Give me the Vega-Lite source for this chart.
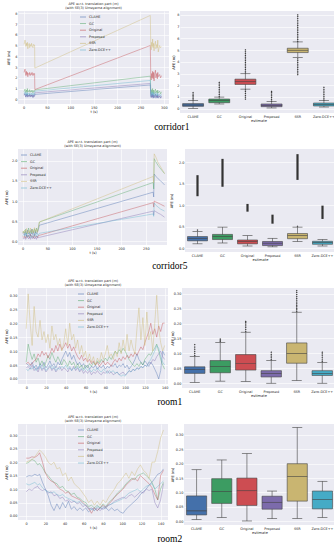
{
"$schema": "https://vega.github.io/schema/vega-lite/v6.json",
"background": "white",
"padding": {"left": 4, "top": 1, "right": 0, "bottom": 0},
"spacing": 7,
"resolve": {"scale": {"color": "independent"}, "legend": {"color": "independent"}},
"config": {
  "font": "DejaVu Sans",
  "view": {"fill": "#EAEAF2", "stroke": null},
  "axis": {"domain": false, "ticks": false, "gridColor": "white", "gridWidth": 0.6, "labelFontSize": 3.4, "titleFontSize": 3.6, "titleFontWeight": "normal", "labelColor": "#262626", "titleColor": "#262626", "labelPadding": 1.2, "titlePadding": 1, "labelOverlap": false, "labelBound": false, "labelFlush": false},
  "legend": {"symbolType": "stroke", "symbolSize": 36, "symbolStrokeWidth": 0.8, "labelFontSize": 3.4, "labelColor": "#262626", "rowPadding": 0.6, "labelOffset": 2.5, "padding": 1.5, "labelLimit": 0},
  "title": {"font": "DejaVu Sans", "fontWeight": "normal", "color": "#262626"}
},
"datasets": {
 "c1": [
  {"t":1,"CLAHE":0.4,"GC":0.7,"Original":2.5,"Proposed":0.35,"SSR":5.1,"ZeroDCE":0.5},
  {"t":3,"CLAHE":0.55,"GC":0.95,"Original":2.8,"Proposed":0.5,"SSR":5.5,"ZeroDCE":0.7},
  {"t":4,"CLAHE":0.3,"GC":0.75,"Original":2.4,"Proposed":0.3,"SSR":5.3,"ZeroDCE":0.5},
  {"t":5,"CLAHE":0.2,"GC":0.6,"Original":2.2,"Proposed":0.2,"SSR":4.9,"ZeroDCE":0.35},
  {"t":6,"CLAHE":0.45,"GC":0.85,"Original":2.6,"Proposed":0.45,"SSR":5.2,"ZeroDCE":0.6},
  {"t":7,"CLAHE":0.3,"GC":0.7,"Original":2.3,"Proposed":0.3,"SSR":5.0,"ZeroDCE":0.45},
  {"t":8,"CLAHE":0.5,"GC":1.0,"Original":2.5,"Proposed":0.5,"SSR":5.3,"ZeroDCE":0.65},
  {"t":9,"CLAHE":0.2,"GC":0.65,"Original":2.1,"Proposed":0.2,"SSR":4.7,"ZeroDCE":0.35},
  {"t":10,"CLAHE":0.35,"GC":0.8,"Original":2.4,"Proposed":0.4,"SSR":5.0,"ZeroDCE":0.55},
  {"t":12,"CLAHE":0.3,"GC":0.7,"Original":2.3,"Proposed":0.3,"SSR":5.2,"ZeroDCE":0.45},
  {"t":13,"CLAHE":0.45,"GC":0.9,"Original":2.5,"Proposed":0.45,"SSR":4.8,"ZeroDCE":0.6},
  {"t":14,"CLAHE":0.2,"GC":0.65,"Original":2.2,"Proposed":0.25,"SSR":5.1,"ZeroDCE":0.4},
  {"t":16,"CLAHE":0.4,"GC":0.8,"Original":2.4,"Proposed":0.4,"SSR":4.9,"ZeroDCE":0.55},
  {"t":17,"CLAHE":0.25,"GC":0.7,"Original":2.3,"Proposed":0.3,"SSR":5.2,"ZeroDCE":0.45},
  {"t":18,"CLAHE":0.4,"GC":0.85,"Original":2.5,"Proposed":0.45,"SSR":5.0,"ZeroDCE":0.6},
  {"t":20,"CLAHE":0.15,"GC":0.6,"Original":2.2,"Proposed":0.2,"SSR":4.8,"ZeroDCE":0.35},
  {"t":21,"CLAHE":0.35,"GC":0.8,"Original":2.4,"Proposed":0.4,"SSR":5.1,"ZeroDCE":0.55},
  {"t":22,"CLAHE":0.25,"GC":0.7,"Original":2.3,"Proposed":0.25,"SSR":5.0,"ZeroDCE":0.4},
  {"t":23.5,"CLAHE":0.3,"GC":0.75,"Original":2.4,"Proposed":0.35,"SSR":5.05,"ZeroDCE":0.5},
  {"t":24,"CLAHE":0.45,"GC":0.87,"Original":0.9,"Proposed":0.6,"SSR":2.9,"ZeroDCE":0.75},
  {"t":271,"CLAHE":1.33,"GC":2.15,"Original":5.0,"Proposed":1.47,"SSR":7.8,"ZeroDCE":1.75},
  {"t":272,"CLAHE":0.3,"GC":0.7,"Original":2.1,"Proposed":0.35,"SSR":5.0,"ZeroDCE":0.5},
  {"t":273,"CLAHE":0.15,"GC":0.5,"Original":1.8,"Proposed":0.2,"SSR":4.6,"ZeroDCE":0.3},
  {"t":274,"CLAHE":0.5,"GC":0.9,"Original":2.4,"Proposed":0.5,"SSR":5.3,"ZeroDCE":0.65},
  {"t":275,"CLAHE":0.2,"GC":0.6,"Original":2.0,"Proposed":0.25,"SSR":4.9,"ZeroDCE":0.4},
  {"t":276,"CLAHE":0.45,"GC":1.0,"Original":2.6,"Proposed":0.55,"SSR":5.6,"ZeroDCE":0.7},
  {"t":277,"CLAHE":0.1,"GC":0.55,"Original":1.9,"Proposed":0.2,"SSR":4.8,"ZeroDCE":0.35},
  {"t":278,"CLAHE":0.4,"GC":0.85,"Original":2.5,"Proposed":0.45,"SSR":5.2,"ZeroDCE":0.6},
  {"t":279,"CLAHE":0.15,"GC":0.5,"Original":1.7,"Proposed":0.15,"SSR":4.5,"ZeroDCE":0.25},
  {"t":280,"CLAHE":0.3,"GC":0.75,"Original":2.3,"Proposed":0.35,"SSR":5.0,"ZeroDCE":0.5},
  {"t":282,"CLAHE":0.45,"GC":0.95,"Original":2.7,"Proposed":0.5,"SSR":5.4,"ZeroDCE":0.65},
  {"t":283,"CLAHE":0.1,"GC":0.6,"Original":2.0,"Proposed":0.2,"SSR":4.7,"ZeroDCE":0.35},
  {"t":285,"CLAHE":0.35,"GC":0.8,"Original":2.4,"Proposed":0.4,"SSR":5.1,"ZeroDCE":0.55},
  {"t":286,"CLAHE":0.15,"GC":0.55,"Original":1.9,"Proposed":0.15,"SSR":4.8,"ZeroDCE":0.3},
  {"t":287,"CLAHE":0.4,"GC":0.85,"Original":2.5,"Proposed":0.45,"SSR":5.5,"ZeroDCE":0.6},
  {"t":288,"CLAHE":0.1,"GC":0.6,"Original":2.1,"Proposed":0.2,"SSR":4.4,"ZeroDCE":0.35},
  {"t":291,"CLAHE":0.3,"GC":0.75,"Original":2.3,"Proposed":0.35,"SSR":5.0,"ZeroDCE":0.5},
  {"t":293,"CLAHE":0.1,"GC":0.5,"Original":2.0,"Proposed":0.15,"SSR":4.8,"ZeroDCE":0.3},
  {"t":295,"CLAHE":0.25,"GC":0.7,"Original":2.2,"Proposed":0.3,"SSR":4.9,"ZeroDCE":0.45}
 ],
 "c5": [
  {"t":0,"CLAHE":0.2,"GC":0.22,"Original":0.12,"Proposed":0.08,"SSR":0.25,"ZeroDCE":0.15},
  {"t":2,"CLAHE":0.22,"GC":0.25,"Original":0.1,"Proposed":0.06,"SSR":0.2,"ZeroDCE":0.17},
  {"t":4,"CLAHE":0.15,"GC":0.2,"Original":0.14,"Proposed":0.1,"SSR":0.28,"ZeroDCE":0.12},
  {"t":6,"CLAHE":0.25,"GC":0.3,"Original":0.08,"Proposed":0.05,"SSR":0.22,"ZeroDCE":0.2},
  {"t":8,"CLAHE":0.12,"GC":0.18,"Original":0.15,"Proposed":0.09,"SSR":0.32,"ZeroDCE":0.1},
  {"t":10,"CLAHE":0.28,"GC":0.22,"Original":0.1,"Proposed":0.12,"SSR":0.2,"ZeroDCE":0.16},
  {"t":12,"CLAHE":0.18,"GC":0.33,"Original":0.16,"Proposed":0.06,"SSR":0.27,"ZeroDCE":0.11},
  {"t":14,"CLAHE":0.22,"GC":0.2,"Original":0.09,"Proposed":0.1,"SSR":0.21,"ZeroDCE":0.18},
  {"t":16,"CLAHE":0.14,"GC":0.27,"Original":0.17,"Proposed":0.05,"SSR":0.33,"ZeroDCE":0.09},
  {"t":18,"CLAHE":0.3,"GC":0.19,"Original":0.11,"Proposed":0.11,"SSR":0.22,"ZeroDCE":0.15},
  {"t":20,"CLAHE":0.17,"GC":0.3,"Original":0.14,"Proposed":0.07,"SSR":0.29,"ZeroDCE":0.1},
  {"t":22,"CLAHE":0.24,"GC":0.22,"Original":0.08,"Proposed":0.12,"SSR":0.2,"ZeroDCE":0.17},
  {"t":24,"CLAHE":0.15,"GC":0.31,"Original":0.16,"Proposed":0.06,"SSR":0.34,"ZeroDCE":0.12},
  {"t":26,"CLAHE":0.27,"GC":0.2,"Original":0.1,"Proposed":0.1,"SSR":0.24,"ZeroDCE":0.19},
  {"t":28,"CLAHE":0.19,"GC":0.33,"Original":0.13,"Proposed":0.05,"SSR":0.3,"ZeroDCE":0.11},
  {"t":30,"CLAHE":0.23,"GC":0.24,"Original":0.09,"Proposed":0.13,"SSR":0.22,"ZeroDCE":0.2},
  {"t":32,"CLAHE":0.3,"GC":0.35,"Original":0.15,"Proposed":0.09,"SSR":0.36,"ZeroDCE":0.15},
  {"t":34,"CLAHE":0.4,"GC":0.48,"Original":0.15,"Proposed":0.1,"SSR":0.48,"ZeroDCE":0.2},
  {"t":265,"CLAHE":1.22,"GC":1.46,"Original":0.96,"Proposed":0.75,"SSR":1.61,"ZeroDCE":0.68},
  {"t":266,"CLAHE":1.1,"GC":1.3,"Original":0.85,"Proposed":0.65,"SSR":1.45,"ZeroDCE":0.62},
  {"t":267,"CLAHE":1.67,"GC":2.05,"Original":1.0,"Proposed":0.76,"SSR":2.17,"ZeroDCE":0.95},
  {"t":270,"CLAHE":1.62,"GC":1.98,"Original":0.98,"Proposed":0.74,"SSR":2.1,"ZeroDCE":0.9},
  {"t":275,"CLAHE":1.55,"GC":1.88,"Original":0.95,"Proposed":0.7,"SSR":1.95,"ZeroDCE":0.85},
  {"t":280,"CLAHE":1.5,"GC":1.8,"Original":0.92,"Proposed":0.67,"SSR":1.85,"ZeroDCE":0.8},
  {"t":288,"CLAHE":1.4,"GC":1.68,"Original":0.87,"Proposed":0.6,"SSR":1.68,"ZeroDCE":0.75}
 ],
 "r1": [
  {"t":0,"CLAHE":0.055,"GC":0.06,"Original":0.055,"Proposed":0.04,"SSR":0.18,"ZeroDCE":0.035},
  {"t":2,"CLAHE":0.05,"GC":0.125,"Original":0.06,"Proposed":0.045,"SSR":0.305,"ZeroDCE":0.03},
  {"t":4,"CLAHE":0.045,"GC":0.095,"Original":0.05,"Proposed":0.035,"SSR":0.2,"ZeroDCE":0.04},
  {"t":6,"CLAHE":0.06,"GC":0.07,"Original":0.055,"Proposed":0.05,"SSR":0.12,"ZeroDCE":0.035},
  {"t":8,"CLAHE":0.04,"GC":0.09,"Original":0.065,"Proposed":0.03,"SSR":0.26,"ZeroDCE":0.045},
  {"t":10,"CLAHE":0.05,"GC":0.06,"Original":0.07,"Proposed":0.04,"SSR":0.17,"ZeroDCE":0.03},
  {"t":12,"CLAHE":0.035,"GC":0.075,"Original":0.09,"Proposed":0.025,"SSR":0.15,"ZeroDCE":0.04},
  {"t":14,"CLAHE":0.055,"GC":0.05,"Original":0.08,"Proposed":0.045,"SSR":0.21,"ZeroDCE":0.05},
  {"t":16,"CLAHE":0.045,"GC":0.065,"Original":0.1,"Proposed":0.03,"SSR":0.14,"ZeroDCE":0.035},
  {"t":18,"CLAHE":0.06,"GC":0.045,"Original":0.085,"Proposed":0.04,"SSR":0.17,"ZeroDCE":0.045},
  {"t":20,"CLAHE":0.04,"GC":0.06,"Original":0.095,"Proposed":0.025,"SSR":0.13,"ZeroDCE":0.03},
  {"t":22,"CLAHE":0.05,"GC":0.085,"Original":0.075,"Proposed":0.035,"SSR":0.16,"ZeroDCE":0.04},
  {"t":24,"CLAHE":0.065,"GC":0.07,"Original":0.09,"Proposed":0.045,"SSR":0.11,"ZeroDCE":0.05},
  {"t":26,"CLAHE":0.045,"GC":0.095,"Original":0.11,"Proposed":0.03,"SSR":0.19,"ZeroDCE":0.035},
  {"t":28,"CLAHE":0.055,"GC":0.075,"Original":0.095,"Proposed":0.04,"SSR":0.14,"ZeroDCE":0.045},
  {"t":30,"CLAHE":0.04,"GC":0.06,"Original":0.12,"Proposed":0.025,"SSR":0.16,"ZeroDCE":0.03},
  {"t":32,"CLAHE":0.06,"GC":0.08,"Original":0.1,"Proposed":0.035,"SSR":0.12,"ZeroDCE":0.04},
  {"t":34,"CLAHE":0.05,"GC":0.065,"Original":0.125,"Proposed":0.045,"SSR":0.145,"ZeroDCE":0.035},
  {"t":36,"CLAHE":0.07,"GC":0.05,"Original":0.105,"Proposed":0.03,"SSR":0.1,"ZeroDCE":0.045},
  {"t":38,"CLAHE":0.085,"GC":0.07,"Original":0.115,"Proposed":0.04,"SSR":0.13,"ZeroDCE":0.04},
  {"t":40,"CLAHE":0.1,"GC":0.06,"Original":0.13,"Proposed":0.035,"SSR":0.18,"ZeroDCE":0.05},
  {"t":42,"CLAHE":0.08,"GC":0.045,"Original":0.11,"Proposed":0.025,"SSR":0.12,"ZeroDCE":0.035},
  {"t":44,"CLAHE":0.095,"GC":0.065,"Original":0.125,"Proposed":0.04,"SSR":0.2,"ZeroDCE":0.045},
  {"t":46,"CLAHE":0.07,"GC":0.05,"Original":0.1,"Proposed":0.03,"SSR":0.14,"ZeroDCE":0.03},
  {"t":48,"CLAHE":0.085,"GC":0.06,"Original":0.115,"Proposed":0.045,"SSR":0.16,"ZeroDCE":0.04},
  {"t":50,"CLAHE":0.065,"GC":0.04,"Original":0.095,"Proposed":0.03,"SSR":0.11,"ZeroDCE":0.035},
  {"t":52,"CLAHE":0.05,"GC":0.055,"Original":0.08,"Proposed":0.04,"SSR":0.14,"ZeroDCE":0.045},
  {"t":54,"CLAHE":0.06,"GC":0.04,"Original":0.07,"Proposed":0.025,"SSR":0.09,"ZeroDCE":0.03},
  {"t":56,"CLAHE":0.045,"GC":0.05,"Original":0.085,"Proposed":0.035,"SSR":0.12,"ZeroDCE":0.04},
  {"t":58,"CLAHE":0.055,"GC":0.035,"Original":0.065,"Proposed":0.02,"SSR":0.08,"ZeroDCE":0.03},
  {"t":60,"CLAHE":0.04,"GC":0.05,"Original":0.075,"Proposed":0.03,"SSR":0.1,"ZeroDCE":0.04},
  {"t":62,"CLAHE":0.05,"GC":0.04,"Original":0.06,"Proposed":0.02,"SSR":0.065,"ZeroDCE":0.03},
  {"t":64,"CLAHE":0.035,"GC":0.055,"Original":0.07,"Proposed":0.03,"SSR":0.09,"ZeroDCE":0.035},
  {"t":66,"CLAHE":0.045,"GC":0.045,"Original":0.055,"Proposed":0.015,"SSR":0.06,"ZeroDCE":0.025},
  {"t":68,"CLAHE":0.04,"GC":0.06,"Original":0.065,"Proposed":0.025,"SSR":0.08,"ZeroDCE":0.035},
  {"t":70,"CLAHE":0.05,"GC":0.05,"Original":0.05,"Proposed":0.02,"SSR":0.05,"ZeroDCE":0.03},
  {"t":72,"CLAHE":0.035,"GC":0.065,"Original":0.06,"Proposed":0.03,"SSR":0.075,"ZeroDCE":0.04},
  {"t":74,"CLAHE":0.045,"GC":0.055,"Original":0.045,"Proposed":0.02,"SSR":0.06,"ZeroDCE":0.03},
  {"t":76,"CLAHE":0.04,"GC":0.07,"Original":0.055,"Proposed":0.015,"SSR":0.095,"ZeroDCE":0.025},
  {"t":78,"CLAHE":0.05,"GC":0.06,"Original":0.065,"Proposed":0.025,"SSR":0.07,"ZeroDCE":0.035},
  {"t":80,"CLAHE":0.035,"GC":0.075,"Original":0.05,"Proposed":0.02,"SSR":0.09,"ZeroDCE":0.03},
  {"t":82,"CLAHE":0.045,"GC":0.065,"Original":0.06,"Proposed":0.03,"SSR":0.12,"ZeroDCE":0.02},
  {"t":84,"CLAHE":0.04,"GC":0.08,"Original":0.055,"Proposed":0.02,"SSR":0.08,"ZeroDCE":0.03},
  {"t":86,"CLAHE":0.05,"GC":0.07,"Original":0.045,"Proposed":0.025,"SSR":0.09,"ZeroDCE":0.025},
  {"t":88,"CLAHE":0.045,"GC":0.085,"Original":0.06,"Proposed":0.015,"SSR":0.07,"ZeroDCE":0.03},
  {"t":90,"CLAHE":0.055,"GC":0.1,"Original":0.07,"Proposed":0.02,"SSR":0.1,"ZeroDCE":0.02},
  {"t":92,"CLAHE":0.04,"GC":0.09,"Original":0.06,"Proposed":0.025,"SSR":0.08,"ZeroDCE":0.025},
  {"t":94,"CLAHE":0.05,"GC":0.105,"Original":0.075,"Proposed":0.015,"SSR":0.13,"ZeroDCE":0.015},
  {"t":96,"CLAHE":0.045,"GC":0.095,"Original":0.065,"Proposed":0.02,"SSR":0.09,"ZeroDCE":0.01},
  {"t":98,"CLAHE":0.055,"GC":0.11,"Original":0.08,"Proposed":0.025,"SSR":0.14,"ZeroDCE":0.015},
  {"t":100,"CLAHE":0.04,"GC":0.1,"Original":0.07,"Proposed":0.015,"SSR":0.1,"ZeroDCE":0.01},
  {"t":102,"CLAHE":0.05,"GC":0.085,"Original":0.085,"Proposed":0.02,"SSR":0.16,"ZeroDCE":0.02},
  {"t":104,"CLAHE":0.035,"GC":0.07,"Original":0.075,"Proposed":0.03,"SSR":0.1,"ZeroDCE":0.03},
  {"t":106,"CLAHE":0.045,"GC":0.06,"Original":0.09,"Proposed":0.025,"SSR":0.14,"ZeroDCE":0.025},
  {"t":108,"CLAHE":0.055,"GC":0.05,"Original":0.08,"Proposed":0.035,"SSR":0.11,"ZeroDCE":0.035},
  {"t":110,"CLAHE":0.07,"GC":0.045,"Original":0.095,"Proposed":0.03,"SSR":0.09,"ZeroDCE":0.03},
  {"t":112,"CLAHE":0.09,"GC":0.055,"Original":0.085,"Proposed":0.04,"SSR":0.18,"ZeroDCE":0.04},
  {"t":114,"CLAHE":0.07,"GC":0.045,"Original":0.1,"Proposed":0.035,"SSR":0.255,"ZeroDCE":0.035},
  {"t":116,"CLAHE":0.06,"GC":0.06,"Original":0.115,"Proposed":0.045,"SSR":0.14,"ZeroDCE":0.045},
  {"t":118,"CLAHE":0.05,"GC":0.05,"Original":0.105,"Proposed":0.04,"SSR":0.22,"ZeroDCE":0.04},
  {"t":120,"CLAHE":0.065,"GC":0.07,"Original":0.13,"Proposed":0.05,"SSR":0.12,"ZeroDCE":0.05},
  {"t":122,"CLAHE":0.055,"GC":0.08,"Original":0.15,"Proposed":0.045,"SSR":0.24,"ZeroDCE":0.045},
  {"t":124,"CLAHE":0.045,"GC":0.09,"Original":0.17,"Proposed":0.06,"SSR":0.14,"ZeroDCE":0.06},
  {"t":126,"CLAHE":0.06,"GC":0.085,"Original":0.2,"Proposed":0.055,"SSR":0.17,"ZeroDCE":0.07},
  {"t":128,"CLAHE":0.05,"GC":0.1,"Original":0.16,"Proposed":0.07,"SSR":0.1,"ZeroDCE":0.085},
  {"t":130,"CLAHE":0.035,"GC":0.11,"Original":0.18,"Proposed":0.065,"SSR":0.2,"ZeroDCE":0.1},
  {"t":132,"CLAHE":0.02,"GC":0.125,"Original":0.15,"Proposed":0.08,"SSR":0.3,"ZeroDCE":0.12},
  {"t":134,"CLAHE":0.0,"GC":0.1,"Original":0.19,"Proposed":0.09,"SSR":0.18,"ZeroDCE":0.11},
  {"t":136,"CLAHE":0.03,"GC":0.07,"Original":0.17,"Proposed":0.1,"SSR":0.13,"ZeroDCE":0.08},
  {"t":138,"CLAHE":0.1,"GC":0.05,"Original":0.2,"Proposed":0.08,"SSR":0.1,"ZeroDCE":0.06},
  {"t":140,"CLAHE":0.085,"GC":0.035,"Original":0.2,"Proposed":0.07,"SSR":0.12,"ZeroDCE":0.05}
 ],
 "r2": [
  {"t":0,"CLAHE":0.145,"GC":0.195,"Original":0.215,"Proposed":0.09,"SSR":0.2,"ZeroDCE":0.12},
  {"t":3,"CLAHE":0.15,"GC":0.2,"Original":0.215,"Proposed":0.1,"SSR":0.205,"ZeroDCE":0.115},
  {"t":6,"CLAHE":0.148,"GC":0.21,"Original":0.22,"Proposed":0.095,"SSR":0.21,"ZeroDCE":0.12},
  {"t":9,"CLAHE":0.155,"GC":0.205,"Original":0.218,"Proposed":0.105,"SSR":0.22,"ZeroDCE":0.125},
  {"t":12,"CLAHE":0.15,"GC":0.19,"Original":0.225,"Proposed":0.11,"SSR":0.235,"ZeroDCE":0.115},
  {"t":14,"CLAHE":0.155,"GC":0.195,"Original":0.235,"Proposed":0.1,"SSR":0.245,"ZeroDCE":0.12},
  {"t":17,"CLAHE":0.125,"GC":0.18,"Original":0.2,"Proposed":0.095,"SSR":0.235,"ZeroDCE":0.105},
  {"t":20,"CLAHE":0.1,"GC":0.16,"Original":0.16,"Proposed":0.1,"SSR":0.22,"ZeroDCE":0.095},
  {"t":23,"CLAHE":0.075,"GC":0.15,"Original":0.14,"Proposed":0.085,"SSR":0.2,"ZeroDCE":0.09},
  {"t":26,"CLAHE":0.04,"GC":0.135,"Original":0.13,"Proposed":0.09,"SSR":0.19,"ZeroDCE":0.085},
  {"t":29,"CLAHE":0.02,"GC":0.125,"Original":0.125,"Proposed":0.075,"SSR":0.2,"ZeroDCE":0.09},
  {"t":32,"CLAHE":0.045,"GC":0.12,"Original":0.11,"Proposed":0.08,"SSR":0.175,"ZeroDCE":0.08},
  {"t":35,"CLAHE":0.025,"GC":0.105,"Original":0.1,"Proposed":0.065,"SSR":0.18,"ZeroDCE":0.075},
  {"t":38,"CLAHE":0.05,"GC":0.11,"Original":0.095,"Proposed":0.07,"SSR":0.15,"ZeroDCE":0.08},
  {"t":41,"CLAHE":0.03,"GC":0.095,"Original":0.085,"Proposed":0.055,"SSR":0.16,"ZeroDCE":0.07},
  {"t":44,"CLAHE":0.055,"GC":0.09,"Original":0.09,"Proposed":0.06,"SSR":0.13,"ZeroDCE":0.065},
  {"t":47,"CLAHE":0.025,"GC":0.08,"Original":0.075,"Proposed":0.05,"SSR":0.145,"ZeroDCE":0.06},
  {"t":50,"CLAHE":0.035,"GC":0.085,"Original":0.07,"Proposed":0.055,"SSR":0.12,"ZeroDCE":0.055},
  {"t":53,"CLAHE":0.02,"GC":0.07,"Original":0.065,"Proposed":0.045,"SSR":0.11,"ZeroDCE":0.05},
  {"t":56,"CLAHE":0.03,"GC":0.065,"Original":0.06,"Proposed":0.05,"SSR":0.1,"ZeroDCE":0.055},
  {"t":59,"CLAHE":0.02,"GC":0.055,"Original":0.05,"Proposed":0.035,"SSR":0.085,"ZeroDCE":0.045},
  {"t":62,"CLAHE":0.03,"GC":0.05,"Original":0.04,"Proposed":0.04,"SSR":0.07,"ZeroDCE":0.04},
  {"t":65,"CLAHE":0.015,"GC":0.035,"Original":0.03,"Proposed":0.025,"SSR":0.05,"ZeroDCE":0.03},
  {"t":68,"CLAHE":0.025,"GC":0.04,"Original":0.01,"Proposed":0.03,"SSR":0.06,"ZeroDCE":0.025},
  {"t":71,"CLAHE":0.03,"GC":0.03,"Original":0.03,"Proposed":0.02,"SSR":0.04,"ZeroDCE":0.02},
  {"t":74,"CLAHE":0.02,"GC":0.04,"Original":0.02,"Proposed":0.03,"SSR":0.055,"ZeroDCE":0.035},
  {"t":77,"CLAHE":0.03,"GC":0.03,"Original":0.03,"Proposed":0.02,"SSR":0.04,"ZeroDCE":0.03},
  {"t":80,"CLAHE":0.025,"GC":0.045,"Original":0.04,"Proposed":0.03,"SSR":0.06,"ZeroDCE":0.035},
  {"t":83,"CLAHE":0.03,"GC":0.035,"Original":0.03,"Proposed":0.035,"SSR":0.05,"ZeroDCE":0.03},
  {"t":86,"CLAHE":0.02,"GC":0.05,"Original":0.045,"Proposed":0.04,"SSR":0.07,"ZeroDCE":0.04},
  {"t":89,"CLAHE":0.03,"GC":0.06,"Original":0.055,"Proposed":0.045,"SSR":0.085,"ZeroDCE":0.045},
  {"t":92,"CLAHE":0.02,"GC":0.07,"Original":0.07,"Proposed":0.055,"SSR":0.1,"ZeroDCE":0.05},
  {"t":95,"CLAHE":0.025,"GC":0.085,"Original":0.08,"Proposed":0.06,"SSR":0.12,"ZeroDCE":0.055},
  {"t":98,"CLAHE":0.015,"GC":0.095,"Original":0.09,"Proposed":0.065,"SSR":0.13,"ZeroDCE":0.06},
  {"t":101,"CLAHE":0.01,"GC":0.105,"Original":0.1,"Proposed":0.07,"SSR":0.145,"ZeroDCE":0.065},
  {"t":104,"CLAHE":0.025,"GC":0.12,"Original":0.115,"Proposed":0.065,"SSR":0.16,"ZeroDCE":0.075},
  {"t":107,"CLAHE":0.035,"GC":0.13,"Original":0.125,"Proposed":0.075,"SSR":0.14,"ZeroDCE":0.085},
  {"t":110,"CLAHE":0.045,"GC":0.14,"Original":0.135,"Proposed":0.08,"SSR":0.165,"ZeroDCE":0.09},
  {"t":113,"CLAHE":0.055,"GC":0.135,"Original":0.14,"Proposed":0.07,"SSR":0.15,"ZeroDCE":0.095},
  {"t":116,"CLAHE":0.065,"GC":0.15,"Original":0.13,"Proposed":0.08,"SSR":0.175,"ZeroDCE":0.1},
  {"t":119,"CLAHE":0.08,"GC":0.155,"Original":0.15,"Proposed":0.09,"SSR":0.19,"ZeroDCE":0.09},
  {"t":122,"CLAHE":0.09,"GC":0.16,"Original":0.14,"Proposed":0.085,"SSR":0.17,"ZeroDCE":0.1},
  {"t":125,"CLAHE":0.1,"GC":0.15,"Original":0.13,"Proposed":0.1,"SSR":0.16,"ZeroDCE":0.11},
  {"t":128,"CLAHE":0.115,"GC":0.14,"Original":0.12,"Proposed":0.095,"SSR":0.14,"ZeroDCE":0.115},
  {"t":131,"CLAHE":0.125,"GC":0.125,"Original":0.105,"Proposed":0.1,"SSR":0.2,"ZeroDCE":0.12},
  {"t":134,"CLAHE":0.14,"GC":0.1,"Original":0.08,"Proposed":0.05,"SSR":0.2,"ZeroDCE":0.1},
  {"t":137,"CLAHE":0.155,"GC":0.06,"Original":0.06,"Proposed":0.03,"SSR":0.24,"ZeroDCE":0.11},
  {"t":140,"CLAHE":0.16,"GC":0.1,"Original":0.15,"Proposed":0.06,"SSR":0.29,"ZeroDCE":0.12},
  {"t":143,"CLAHE":0.175,"GC":0.125,"Original":0.17,"Proposed":0.12,"SSR":0.32,"ZeroDCE":0.13}
 ],
 "b1": [
  {"s":"CLAHE","lo":0.03,"q1":0.2,"med":0.31,"q3":0.43,"hi":0.68},
  {"s":"GC","lo":0.4,"q1":0.51,"med":0.71,"q3":0.82,"hi":0.99},
  {"s":"Original","lo":1.67,"q1":2.07,"med":2.3,"q3":2.52,"hi":2.98},
  {"s":"Proposed","lo":0.06,"q1":0.17,"med":0.28,"q3":0.4,"hi":0.6},
  {"s":"SSR","lo":4.37,"q1":4.79,"med":4.99,"q3":5.16,"hi":5.7},
  {"s":"Zero-DCE++","lo":0.14,"q1":0.23,"med":0.34,"q3":0.48,"hi":0.71}
 ],
 "o1": [
  {"s":"CLAHE","v":0.75},{"s":"CLAHE","v":0.88},{"s":"CLAHE","v":1.0},{"s":"CLAHE","v":1.12},{"s":"CLAHE","v":1.25},{"s":"CLAHE","v":1.38},
  {"s":"GC","v":1.05},{"s":"GC","v":1.2},{"s":"GC","v":1.35},{"s":"GC","v":1.5},{"s":"GC","v":1.65},{"s":"GC","v":1.8},{"s":"GC","v":1.95},{"s":"GC","v":2.1},{"s":"GC","v":2.24},
  {"s":"Original","v":3.05},{"s":"Original","v":3.2},{"s":"Original","v":3.35},{"s":"Original","v":3.5},{"s":"Original","v":3.65},{"s":"Original","v":3.8},{"s":"Original","v":3.95},{"s":"Original","v":4.1},{"s":"Original","v":4.25},{"s":"Original","v":4.4},{"s":"Original","v":4.55},{"s":"Original","v":4.7},{"s":"Original","v":4.85},{"s":"Original","v":5.02},
  {"s":"Original","v":0.82},{"s":"Original","v":0.98},{"s":"Original","v":1.14},{"s":"Original","v":1.3},{"s":"Original","v":1.46},{"s":"Original","v":1.6},
  {"s":"Proposed","v":0.65},{"s":"Proposed","v":0.8},{"s":"Proposed","v":0.95},{"s":"Proposed","v":1.1},{"s":"Proposed","v":1.25},{"s":"Proposed","v":1.4},{"s":"Proposed","v":1.47},
  {"s":"SSR","v":5.75},{"s":"SSR","v":5.9},{"s":"SSR","v":6.05},{"s":"SSR","v":6.2},{"s":"SSR","v":6.35},{"s":"SSR","v":6.5},{"s":"SSR","v":6.65},{"s":"SSR","v":6.8},{"s":"SSR","v":6.95},{"s":"SSR","v":7.1},{"s":"SSR","v":7.25},{"s":"SSR","v":7.4},{"s":"SSR","v":7.55},{"s":"SSR","v":7.7},{"s":"SSR","v":7.85},{"s":"SSR","v":8.0},
  {"s":"SSR","v":2.9},{"s":"SSR","v":3.05},{"s":"SSR","v":3.2},{"s":"SSR","v":3.35},{"s":"SSR","v":3.5},{"s":"SSR","v":3.65},{"s":"SSR","v":3.8},{"s":"SSR","v":3.95},{"s":"SSR","v":4.1},{"s":"SSR","v":4.25},
  {"s":"Zero-DCE++","v":0.75},{"s":"Zero-DCE++","v":0.9},{"s":"Zero-DCE++","v":1.05},{"s":"Zero-DCE++","v":1.2},{"s":"Zero-DCE++","v":1.35},{"s":"Zero-DCE++","v":1.5},{"s":"Zero-DCE++","v":1.65},{"s":"Zero-DCE++","v":1.82}
 ],
 "b5": [
  {"s":"CLAHE","lo":0.10,"q1":0.17,"med":0.22,"q3":0.27,"hi":0.39},
  {"s":"GC","lo":0.12,"q1":0.20,"med":0.27,"q3":0.32,"hi":0.49},
  {"s":"Original","lo":0.05,"q1":0.10,"med":0.155,"q3":0.19,"hi":0.29},
  {"s":"Proposed","lo":0.03,"q1":0.06,"med":0.115,"q3":0.155,"hi":0.23},
  {"s":"SSR","lo":0.155,"q1":0.22,"med":0.29,"q3":0.34,"hi":0.49},
  {"s":"Zero-DCE++","lo":0.05,"q1":0.09,"med":0.13,"q3":0.16,"hi":0.20}
 ],
 "q5": [
  {"s":"CLAHE","lo":1.21,"hi":1.70},
  {"s":"GC","lo":1.43,"hi":2.08},
  {"s":"Original","lo":0.85,"hi":1.03},
  {"s":"Proposed","lo":0.57,"hi":0.78},
  {"s":"SSR","lo":1.59,"hi":2.19},
  {"s":"Zero-DCE++","lo":0.68,"hi":0.99}
 ],
 "o5": [
  {"s":"CLAHE","v":0.42},{"s":"SSR","v":0.51}
 ],
 "b3": [
  {"s":"CLAHE","lo":0.003,"q1":0.033,"med":0.046,"q3":0.055,"hi":0.09},
  {"s":"GC","lo":0.007,"q1":0.035,"med":0.056,"q3":0.076,"hi":0.137},
  {"s":"Original","lo":0.006,"q1":0.044,"med":0.067,"q3":0.096,"hi":0.171},
  {"s":"Proposed","lo":0.0,"q1":0.021,"med":0.032,"q3":0.042,"hi":0.076},
  {"s":"SSR","lo":0.009,"q1":0.067,"med":0.1,"q3":0.135,"hi":0.238},
  {"s":"Zero-DCE++","lo":0.0,"q1":0.026,"med":0.033,"q3":0.042,"hi":0.069}
 ],
 "o3": [
  {"s":"CLAHE","v":0.093},{"s":"CLAHE","v":0.1},{"s":"CLAHE","v":0.107},{"s":"CLAHE","v":0.114},{"s":"CLAHE","v":0.121},{"s":"CLAHE","v":0.129},
  {"s":"GC","v":0.14},{"s":"GC","v":0.144},{"s":"GC","v":0.148},
  {"s":"Original","v":0.174},{"s":"Original","v":0.18},{"s":"Original","v":0.186},{"s":"Original","v":0.192},{"s":"Original","v":0.198},{"s":"Original","v":0.204},{"s":"Original","v":0.207},
  {"s":"Proposed","v":0.079},{"s":"Proposed","v":0.085},{"s":"Proposed","v":0.091},{"s":"Proposed","v":0.097},{"s":"Proposed","v":0.104},
  {"s":"SSR","v":0.241},{"s":"SSR","v":0.246},{"s":"SSR","v":0.251},{"s":"SSR","v":0.256},{"s":"SSR","v":0.261},{"s":"SSR","v":0.266},{"s":"SSR","v":0.272},{"s":"SSR","v":0.278},{"s":"SSR","v":0.284},{"s":"SSR","v":0.29},{"s":"SSR","v":0.297},{"s":"SSR","v":0.304},{"s":"SSR","v":0.31},
  {"s":"Zero-DCE++","v":0.072},{"s":"Zero-DCE++","v":0.078},{"s":"Zero-DCE++","v":0.085},{"s":"Zero-DCE++","v":0.092},{"s":"Zero-DCE++","v":0.098},{"s":"Zero-DCE++","v":0.104}
 ],
 "b4": [
  {"s":"CLAHE","lo":0.006,"q1":0.022,"med":0.036,"q3":0.088,"hi":0.179},
  {"s":"GC","lo":0.013,"q1":0.062,"med":0.103,"q3":0.148,"hi":0.213},
  {"s":"Original","lo":0.001,"q1":0.055,"med":0.106,"q3":0.15,"hi":0.235},
  {"s":"Proposed","lo":0.009,"q1":0.042,"med":0.066,"q3":0.087,"hi":0.105},
  {"s":"SSR","lo":0.01,"q1":0.07,"med":0.155,"q3":0.2,"hi":0.326},
  {"s":"Zero-DCE++","lo":0.013,"q1":0.043,"med":0.076,"q3":0.105,"hi":0.139}
 ]
},
"vconcat": [
 {
  "spacing": 2,
  "resolve": {"scale": {"color": "independent"}, "legend": {"color": "independent"}},
  "title": {"text": "corridor1", "orient": "bottom", "anchor": "middle", "font": "Liberation Serif", "fontSize": 9.5, "fontWeight": "normal", "color": "#000000", "offset": 0},
  "hconcat": [
   {
    "width": 151, "height": 93,
    "title": {"text": ["APE w.r.t. translation part (m)", "(with SE(3) Umeyama alignment)"], "fontSize": 3.4, "lineHeight": 4.2, "offset": 1.5},
    "data": {"name": "c1"},
    "transform": [{"fold": ["CLAHE","GC","Original","Proposed","SSR","ZeroDCE"], "as": ["s","v"]}],
    "mark": {"type": "line", "strokeWidth": 0.6, "opacity": 0.7, "clip": true},
    "encoding": {
     "x": {"field": "t", "type": "quantitative", "scale": {"domain": [-12, 311], "nice": false, "zero": false}, "axis": {"values": [0,50,100,150,200,250,300], "title": "t (s)"}},
     "y": {"field": "v", "type": "quantitative", "scale": {"domain": [-0.44, 8.21], "nice": false}, "axis": {"values": [0,1,2,3,4,5,6,7,8], "title": "APE (m)", "minExtent": 6.4, "maxExtent": 6.4}},
     "color": {"field": "s", "type": "nominal", "sort": null, "scale": {"domain": ["CLAHE","GC","Original","Proposed","SSR","ZeroDCE"], "range": ["#4C72B0","#55A868","#C44E52","#8172B2","#CCB974","#64B5CD"]}, "legend": {"orient": "none", "legendX": 60, "legendY": 1, "title": null, "labelExpr": "datum.label == 'ZeroDCE' ? 'Zero-DCE++' : datum.label"}}
    }
   },
   {
    "width": 157, "height": 102,
    "encoding": {
     "x": {"field": "s", "type": "nominal", "sort": null, "scale": {"domain": ["CLAHE","GC","Original","Proposed","SSR","Zero-DCE++"], "paddingInner": 0, "paddingOuter": 0}, "axis": {"title": "estimate", "labelAngle": 0, "grid": false}}
    },
    "layer": [
     {"data": {"name": "b1"}, "mark": {"type": "rule", "color": "#444444", "strokeWidth": 0.6}, "encoding": {"y": {"field": "lo", "type": "quantitative", "scale": {"domain": [-0.37, 8.34], "nice": false}, "axis": {"values": [0,1,2,3,4,5,6,7,8], "title": "APE (m)", "minExtent": 3.4, "maxExtent": 3.4}}, "y2": {"field": "hi"}}},
     {"data": {"name": "b1"}, "mark": {"type": "bar", "width": {"band": 0.8}, "stroke": "#444444", "strokeWidth": 0.6}, "encoding": {"y": {"field": "q1", "type": "quantitative", "axis": {"values": [0,1,2,3,4,5,6,7,8], "title": "APE (m)", "minExtent": 3.4, "maxExtent": 3.4}}, "y2": {"field": "q3"}, "color": {"field": "s", "type": "nominal", "sort": null, "scale": {"domain": ["CLAHE","GC","Original","Proposed","SSR","Zero-DCE++"], "range": ["#4470aa","#3c9c62","#cd4d52","#7c6bab","#c9b571","#45abc6"]}, "legend": null}}},
     {"data": {"name": "b1"}, "mark": {"type": "tick", "size": 21, "thickness": 0.6, "color": "#444444", "opacity": 1}, "encoding": {"y": {"field": "med", "type": "quantitative", "axis": {"values": [0,1,2,3,4,5,6,7,8], "title": "APE (m)", "minExtent": 3.4, "maxExtent": 3.4}}}},
     {"data": {"name": "b1"}, "mark": {"type": "tick", "size": 10, "thickness": 0.6, "color": "#444444", "opacity": 1}, "encoding": {"y": {"field": "lo", "type": "quantitative", "axis": {"values": [0,1,2,3,4,5,6,7,8], "title": "APE (m)", "minExtent": 3.4, "maxExtent": 3.4}}}},
     {"data": {"name": "b1"}, "mark": {"type": "tick", "size": 10, "thickness": 0.6, "color": "#444444", "opacity": 1}, "encoding": {"y": {"field": "hi", "type": "quantitative", "axis": {"values": [0,1,2,3,4,5,6,7,8], "title": "APE (m)", "minExtent": 3.4, "maxExtent": 3.4}}}},
     {"data": {"name": "o1"}, "mark": {"type": "point", "shape": "diamond", "filled": true, "size": 3, "color": "#333333", "opacity": 1}, "encoding": {"y": {"field": "v", "type": "quantitative", "axis": {"values": [0,1,2,3,4,5,6,7,8], "title": "APE (m)", "minExtent": 3.4, "maxExtent": 3.4}}}}
    ]
   }
  ]
 },
 {
  "spacing": 2,
  "resolve": {"scale": {"color": "independent"}, "legend": {"color": "independent"}},
  "title": {"text": "corridor5", "orient": "bottom", "anchor": "middle", "font": "Liberation Serif", "fontSize": 9.5, "fontWeight": "normal", "color": "#000000", "offset": 0},
  "hconcat": [
   {
    "width": 149, "height": 96,
    "title": {"text": ["APE w.r.t. translation part (m)", "(with SE(3) Umeyama alignment)"], "fontSize": 3.4, "lineHeight": 4.2, "offset": 1.5},
    "data": {"name": "c5"},
    "transform": [{"fold": ["CLAHE","GC","Original","Proposed","SSR","ZeroDCE"], "as": ["s","v"]}],
    "mark": {"type": "line", "strokeWidth": 0.6, "opacity": 0.7, "clip": true},
    "encoding": {
     "x": {"field": "t", "type": "quantitative", "scale": {"domain": [-9.5, 293], "nice": false, "zero": false}, "axis": {"values": [0,50,100,150,200,250], "title": "t (s)"}},
     "y": {"field": "v", "type": "quantitative", "scale": {"domain": [-0.09, 2.29], "nice": false}, "axis": {"values": [0,0.5,1,1.5,2], "format": ".1f", "title": "APE (m)", "minExtent": 8.4, "maxExtent": 8.4}},
     "color": {"field": "s", "type": "nominal", "sort": null, "scale": {"domain": ["CLAHE","GC","Original","Proposed","SSR","ZeroDCE"], "range": ["#4C72B0","#55A868","#C44E52","#8172B2","#CCB974","#64B5CD"]}, "legend": {"orient": "none", "legendX": 1, "legendY": 1, "title": null, "labelExpr": "datum.label == 'ZeroDCE' ? 'Zero-DCE++' : datum.label"}}
    }
   },
   {
    "width": 150, "height": 103,
    "encoding": {
     "x": {"field": "s", "type": "nominal", "sort": null, "scale": {"domain": ["CLAHE","GC","Original","Proposed","SSR","Zero-DCE++"], "paddingInner": 0, "paddingOuter": 0}, "axis": {"title": "estimate", "labelAngle": 0, "grid": false}}
    },
    "layer": [
     {"data": {"name": "b5"}, "mark": {"type": "rule", "color": "#444444", "strokeWidth": 0.6}, "encoding": {"y": {"field": "lo", "type": "quantitative", "scale": {"domain": [-0.09, 2.31], "nice": false}, "axis": {"values": [0,0.5,1,1.5,2], "format": ".1f", "title": "APE (m)", "minExtent": 10.4, "maxExtent": 10.4}}, "y2": {"field": "hi"}}},
     {"data": {"name": "b5"}, "mark": {"type": "bar", "width": {"band": 0.8}, "stroke": "#444444", "strokeWidth": 0.6}, "encoding": {"y": {"field": "q1", "type": "quantitative", "axis": {"values": [0,0.5,1,1.5,2], "format": ".1f", "title": "APE (m)", "minExtent": 10.4, "maxExtent": 10.4}}, "y2": {"field": "q3"}, "color": {"field": "s", "type": "nominal", "sort": null, "scale": {"domain": ["CLAHE","GC","Original","Proposed","SSR","Zero-DCE++"], "range": ["#4470aa","#3c9c62","#cd4d52","#7c6bab","#c9b571","#45abc6"]}, "legend": null}}},
     {"data": {"name": "b5"}, "mark": {"type": "tick", "size": 20, "thickness": 0.6, "color": "#444444", "opacity": 1}, "encoding": {"y": {"field": "med", "type": "quantitative", "axis": {"values": [0,0.5,1,1.5,2], "format": ".1f", "title": "APE (m)", "minExtent": 10.4, "maxExtent": 10.4}}}},
     {"data": {"name": "b5"}, "mark": {"type": "tick", "size": 10, "thickness": 0.6, "color": "#444444", "opacity": 1}, "encoding": {"y": {"field": "lo", "type": "quantitative", "axis": {"values": [0,0.5,1,1.5,2], "format": ".1f", "title": "APE (m)", "minExtent": 10.4, "maxExtent": 10.4}}}},
     {"data": {"name": "b5"}, "mark": {"type": "tick", "size": 10, "thickness": 0.6, "color": "#444444", "opacity": 1}, "encoding": {"y": {"field": "hi", "type": "quantitative", "axis": {"values": [0,0.5,1,1.5,2], "format": ".1f", "title": "APE (m)", "minExtent": 10.4, "maxExtent": 10.4}}}},
     {"data": {"name": "q5"}, "mark": {"type": "rule", "color": "#333333", "strokeWidth": 2.2}, "encoding": {"y": {"field": "lo", "type": "quantitative", "axis": {"values": [0,0.5,1,1.5,2], "format": ".1f", "title": "APE (m)", "minExtent": 10.4, "maxExtent": 10.4}}, "y2": {"field": "hi"}}},
     {"data": {"name": "o5"}, "mark": {"type": "point", "shape": "diamond", "filled": true, "size": 3, "color": "#333333", "opacity": 1}, "encoding": {"y": {"field": "v", "type": "quantitative", "axis": {"values": [0,0.5,1,1.5,2], "format": ".1f", "title": "APE (m)", "minExtent": 10.4, "maxExtent": 10.4}}}}
    ]
   }
  ]
 },
 {
  "spacing": 2,
  "resolve": {"scale": {"color": "independent"}, "legend": {"color": "independent"}},
  "title": {"text": "room1", "orient": "bottom", "anchor": "middle", "font": "Liberation Serif", "fontSize": 9.5, "fontWeight": "normal", "color": "#000000", "offset": 0},
  "hconcat": [
   {
    "width": 150, "height": 96,
    "title": {"text": ["APE w.r.t. translation part (m)", "(with SE(3) Umeyama alignment)"], "fontSize": 3.4, "lineHeight": 4.2, "offset": 1.5},
    "data": {"name": "r1"},
    "transform": [{"fold": ["CLAHE","GC","Original","Proposed","SSR","ZeroDCE"], "as": ["s","v"]}],
    "mark": {"type": "line", "strokeWidth": 0.6, "opacity": 0.7, "clip": true},
    "encoding": {
     "x": {"field": "t", "type": "quantitative", "scale": {"domain": [-8.3, 143.4], "nice": false, "zero": false}, "axis": {"values": [0,20,40,60,80,100,120,140], "title": "t (s)"}},
     "y": {"field": "v", "type": "quantitative", "scale": {"domain": [-0.018, 0.326], "nice": false}, "axis": {"values": [0,0.05,0.1,0.15,0.2,0.25,0.3], "format": ".2f", "title": "APE (m)", "minExtent": 8.4, "maxExtent": 8.4}},
     "color": {"field": "s", "type": "nominal", "sort": null, "scale": {"domain": ["CLAHE","GC","Original","Proposed","SSR","ZeroDCE"], "range": ["#4C72B0","#55A868","#C44E52","#8172B2","#CCB974","#64B5CD"]}, "legend": {"orient": "none", "legendX": 58, "legendY": 1, "title": null, "labelExpr": "datum.label == 'ZeroDCE' ? 'Zero-DCE++' : datum.label"}}
    }
   },
   {
    "width": 153, "height": 100,
    "encoding": {
     "x": {"field": "s", "type": "nominal", "sort": null, "scale": {"domain": ["CLAHE","GC","Original","Proposed","SSR","Zero-DCE++"], "paddingInner": 0, "paddingOuter": 0}, "axis": {"title": "estimate", "labelAngle": 0, "grid": false}}
    },
    "layer": [
     {"data": {"name": "b3"}, "mark": {"type": "rule", "color": "#444444", "strokeWidth": 0.6}, "encoding": {"y": {"field": "lo", "type": "quantitative", "scale": {"domain": [-0.016, 0.319], "nice": false}, "axis": {"values": [0,0.05,0.1,0.15,0.2,0.25,0.3], "format": ".2f", "title": "APE (m)", "minExtent": 6.4, "maxExtent": 6.4}}, "y2": {"field": "hi"}}},
     {"data": {"name": "b3"}, "mark": {"type": "bar", "width": {"band": 0.8}, "stroke": "#444444", "strokeWidth": 0.6}, "encoding": {"y": {"field": "q1", "type": "quantitative", "axis": {"values": [0,0.05,0.1,0.15,0.2,0.25,0.3], "format": ".2f", "title": "APE (m)", "minExtent": 6.4, "maxExtent": 6.4}}, "y2": {"field": "q3"}, "color": {"field": "s", "type": "nominal", "sort": null, "scale": {"domain": ["CLAHE","GC","Original","Proposed","SSR","Zero-DCE++"], "range": ["#4470aa","#3c9c62","#cd4d52","#7c6bab","#c9b571","#45abc6"]}, "legend": null}}},
     {"data": {"name": "b3"}, "mark": {"type": "tick", "size": 20.4, "thickness": 0.6, "color": "#444444", "opacity": 1}, "encoding": {"y": {"field": "med", "type": "quantitative", "axis": {"values": [0,0.05,0.1,0.15,0.2,0.25,0.3], "format": ".2f", "title": "APE (m)", "minExtent": 6.4, "maxExtent": 6.4}}}},
     {"data": {"name": "b3"}, "mark": {"type": "tick", "size": 10, "thickness": 0.6, "color": "#444444", "opacity": 1}, "encoding": {"y": {"field": "lo", "type": "quantitative", "axis": {"values": [0,0.05,0.1,0.15,0.2,0.25,0.3], "format": ".2f", "title": "APE (m)", "minExtent": 6.4, "maxExtent": 6.4}}}},
     {"data": {"name": "b3"}, "mark": {"type": "tick", "size": 10, "thickness": 0.6, "color": "#444444", "opacity": 1}, "encoding": {"y": {"field": "hi", "type": "quantitative", "axis": {"values": [0,0.05,0.1,0.15,0.2,0.25,0.3], "format": ".2f", "title": "APE (m)", "minExtent": 6.4, "maxExtent": 6.4}}}},
     {"data": {"name": "o3"}, "mark": {"type": "point", "shape": "diamond", "filled": true, "size": 3, "color": "#333333", "opacity": 1}, "encoding": {"y": {"field": "v", "type": "quantitative", "axis": {"values": [0,0.05,0.1,0.15,0.2,0.25,0.3], "format": ".2f", "title": "APE (m)", "minExtent": 6.4, "maxExtent": 6.4}}}}
    ]
   }
  ]
 },
 {
  "spacing": 2,
  "resolve": {"scale": {"color": "independent"}, "legend": {"color": "independent"}},
  "title": {"text": "room2", "orient": "bottom", "anchor": "middle", "font": "Liberation Serif", "fontSize": 9.5, "fontWeight": "normal", "color": "#000000", "offset": 0},
  "hconcat": [
   {
    "width": 150, "height": 96,
    "title": {"text": ["APE w.r.t. translation part (m)", "(with SE(3) Umeyama alignment)"], "fontSize": 3.4, "lineHeight": 4.2, "offset": 1.5},
    "data": {"name": "r2"},
    "transform": [{"fold": ["CLAHE","GC","Original","Proposed","SSR","ZeroDCE"], "as": ["s","v"]}],
    "mark": {"type": "line", "strokeWidth": 0.6, "opacity": 0.7, "clip": true},
    "encoding": {
     "x": {"field": "t", "type": "quantitative", "scale": {"domain": [-8.5, 147.7], "nice": false, "zero": false}, "axis": {"values": [0,20,40,60,80,100,120,140], "title": "t (s)"}},
     "y": {"field": "v", "type": "quantitative", "scale": {"domain": [-0.015, 0.342], "nice": false}, "axis": {"values": [0,0.05,0.1,0.15,0.2,0.25,0.3], "format": ".2f", "title": "APE (m)", "minExtent": 8.4, "maxExtent": 8.4}},
     "color": {"field": "s", "type": "nominal", "sort": null, "scale": {"domain": ["CLAHE","GC","Original","Proposed","SSR","ZeroDCE"], "range": ["#4C72B0","#55A868","#C44E52","#8172B2","#CCB974","#64B5CD"]}, "legend": {"orient": "none", "legendX": 58, "legendY": 1, "title": null, "labelExpr": "datum.label == 'ZeroDCE' ? 'Zero-DCE++' : datum.label"}}
    }
   },
   {
    "width": 151, "height": 101,
    "encoding": {
     "x": {"field": "s", "type": "nominal", "sort": null, "scale": {"domain": ["CLAHE","GC","Original","Proposed","SSR","Zero-DCE++"], "paddingInner": 0, "paddingOuter": 0}, "axis": {"title": "estimate", "labelAngle": 0, "grid": false}}
    },
    "layer": [
     {"data": {"name": "b4"}, "mark": {"type": "rule", "color": "#444444", "strokeWidth": 0.6}, "encoding": {"y": {"field": "lo", "type": "quantitative", "scale": {"domain": [-0.013, 0.338], "nice": false}, "axis": {"values": [0,0.05,0.1,0.15,0.2,0.25,0.3], "format": ".2f", "title": "APE (m)", "minExtent": 8.4, "maxExtent": 8.4}}, "y2": {"field": "hi"}}},
     {"data": {"name": "b4"}, "mark": {"type": "bar", "width": {"band": 0.8}, "stroke": "#444444", "strokeWidth": 0.6}, "encoding": {"y": {"field": "q1", "type": "quantitative", "axis": {"values": [0,0.05,0.1,0.15,0.2,0.25,0.3], "format": ".2f", "title": "APE (m)", "minExtent": 8.4, "maxExtent": 8.4}}, "y2": {"field": "q3"}, "color": {"field": "s", "type": "nominal", "sort": null, "scale": {"domain": ["CLAHE","GC","Original","Proposed","SSR","Zero-DCE++"], "range": ["#4470aa","#3c9c62","#cd4d52","#7c6bab","#c9b571","#45abc6"]}, "legend": null}}},
     {"data": {"name": "b4"}, "mark": {"type": "tick", "size": 20.1, "thickness": 0.6, "color": "#444444", "opacity": 1}, "encoding": {"y": {"field": "med", "type": "quantitative", "axis": {"values": [0,0.05,0.1,0.15,0.2,0.25,0.3], "format": ".2f", "title": "APE (m)", "minExtent": 8.4, "maxExtent": 8.4}}}},
     {"data": {"name": "b4"}, "mark": {"type": "tick", "size": 10, "thickness": 0.6, "color": "#444444", "opacity": 1}, "encoding": {"y": {"field": "lo", "type": "quantitative", "axis": {"values": [0,0.05,0.1,0.15,0.2,0.25,0.3], "format": ".2f", "title": "APE (m)", "minExtent": 8.4, "maxExtent": 8.4}}}},
     {"data": {"name": "b4"}, "mark": {"type": "tick", "size": 10, "thickness": 0.6, "color": "#444444", "opacity": 1}, "encoding": {"y": {"field": "hi", "type": "quantitative", "axis": {"values": [0,0.05,0.1,0.15,0.2,0.25,0.3], "format": ".2f", "title": "APE (m)", "minExtent": 8.4, "maxExtent": 8.4}}}}
    ]
   }
  ]
 }
]
}
